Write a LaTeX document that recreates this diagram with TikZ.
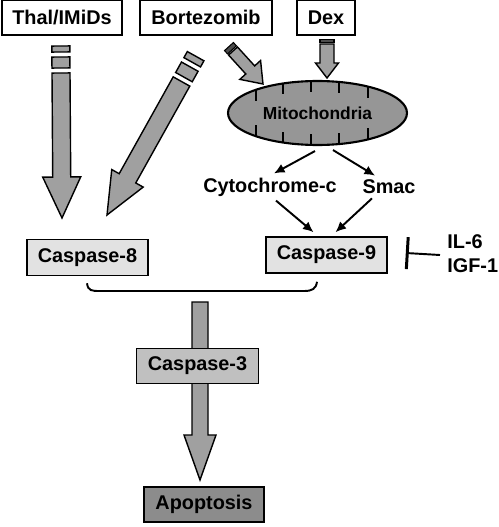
\documentclass[tikz,border=0pt]{standalone}
\usepackage{fontspec}
\setmainfont{Liberation Sans}
\usepackage{tikz}
\usetikzlibrary{positioning, calc, arrows.meta, shapes.geometric}
\definecolor{arrowgray}{RGB}{160,160,160}
\definecolor{mitogray}{RGB}{150,150,150}
\definecolor{lightbox}{RGB}{226,226,226}
\definecolor{midbox}{RGB}{192,192,192}
\definecolor{darkbox}{RGB}{140,140,140}
\tikzset{
    drugnode/.style={
        draw, line width=0.9pt, fill=white, font=\fontsize{11.3}{13}\selectfont\bfseries,
        minimum height=0.7cm, inner sep=0pt
    },
    casenode/.style={
        draw, line width=0.9pt, fill=lightbox, font=\fontsize{11.3}{13}\selectfont\bfseries,
        minimum width=2.42cm, minimum height=0.72cm, inner sep=0pt
    },
    labelnode/.style={
        font=\fontsize{11.3}{13}\selectfont\bfseries, inner sep=0pt
    },
    bodyarrow/.style={
        fill=arrowgray, draw=black, line width=0.8pt, line join=miter
    },
    darkdash/.style={
        fill=black!70, draw=black, line width=0.6pt
    },
    thinarrow/.style={
        -{Latex[length=6pt,width=5.5pt]}, line width=1.1pt
    },
    inhibit/.style={
        line width=1.1pt, -{Bar[width=0.64cm, line width=1.7pt]}
    }
}
% fat block arrow: #1 tail, #2 tip, #3 half shaft, #4 half head, #5 head length (px)
\newcommand{\blockarrow}[5]{%
    \coordinate (ba-h) at ($(#2)!#5*0.02cm!(#1)$);
    \filldraw[bodyarrow] ($(#1)!#3*0.02cm!90:(#2)$) -- ($(ba-h)!#3*0.02cm!90:(#2)$)
        -- ($(ba-h)!#4*0.02cm!90:(#2)$) -- (#2) -- ($(ba-h)!#4*0.02cm!-90:(#2)$)
        -- ($(ba-h)!#3*0.02cm!-90:(#2)$) -- ($(#1)!#3*0.02cm!-90:(#2)$) -- cycle;}
% piece of a broken tail: #1 tail, #2 tip, #3 #4 offsets behind tail, #5 half width, #6 style
\newcommand{\arrowdash}[6]{%
    \coordinate (bd-a) at ($(#1)!-#3*0.02cm!(#2)$);
    \coordinate (bd-b) at ($(#1)!-#4*0.02cm!(#2)$);
    \filldraw[#6] ($(bd-a)!#5*0.02cm!90:(#2)$) -- ($(bd-b)!#5*0.02cm!90:(#2)$)
        -- ($(bd-b)!#5*0.02cm!-90:(#2)$) -- ($(bd-a)!#5*0.02cm!-90:(#2)$) -- cycle;}

\begin{document}
\begin{tikzpicture}[x=0.02cm, y=0.02cm]
    \useasboundingbox (0,0) rectangle (498,-527);

    % drugs on top
    \node[drugnode, minimum width=2.4cm] (thal) at (62,-17.5) {Thal/IMiDs};
    \node[drugnode, minimum width=2.64cm] (bort) at (206,-17.5) {Bortezomib};
    \node[drugnode, minimum width=1.16cm] (dex) at (326,-17.5) {Dex};

    % mitochondria with its cristae
    \node[ellipse, draw, line width=1.2pt, fill=mitogray, minimum width=3.58cm, minimum height=1.28cm,
          inner sep=0pt, font=\fontsize{9.9}{12}\selectfont\bfseries] (mito) at (317.5,-113) {Mitochondria};
    \foreach \tx in {256,283,311,339,368}{
        \pgfmathsetmacro{\ty}{32*sqrt(1-((\tx-317.5)/89.5)^2)}
        \draw[line width=1pt] (\tx,{-113+\ty}) -- (\tx,{-113+\ty-11});
        \draw[line width=1pt] (\tx,{-113-\ty}) -- (\tx,{-113-\ty+11});
    }

    \node[labelnode] (cyto) at (270,-187) {Cytochrome-c};
    \node[labelnode] (smac) at (389,-187) {Smac};

    % caspases
    \node[casenode] (casp8) at (87.5,-257.5) {Caspase-8};
    \node[casenode] (casp9) at (326.5,-255) {Caspase-9};
    \node[labelnode, anchor=west] (il6) at (447,-242) {IL-6};
    \node[labelnode, anchor=west] (igf1) at (447,-266) {IGF-1};

    % fat arrows from the drugs
    \coordinate (thalS) at (61,-73);
    \coordinate (thalT) at (62,-218);
    \blockarrow{thalS}{thalT}{9}{19}{41}
    \arrowdash{thalS}{thalT}{5}{16}{9}{bodyarrow}
    \arrowdash{thalS}{thalT}{21}{27}{9}{bodyarrow}

    \coordinate (bortS) at (181.5,-81.5);
    \coordinate (bortT) at (107,-215);
    \blockarrow{bortS}{bortT}{9.5}{18}{42}
    \arrowdash{bortS}{bortT}{5}{17}{9.5}{bodyarrow}
    \arrowdash{bortS}{bortT}{22}{29}{9.5}{bodyarrow}

    \coordinate (bmitoS) at (233,-51);
    \coordinate (bmitoT) at (263,-84);
    \blockarrow{bmitoS}{bmitoT}{6}{14}{19}
    \arrowdash{bmitoS}{bmitoT}{1.5}{6}{6}{darkdash}

    \coordinate (dexS) at (327,-44);
    \coordinate (dexT) at (327,-78);
    \blockarrow{dexS}{dexT}{7}{11.5}{15}
    \arrowdash{dexS}{dexT}{1.5}{4.5}{7}{darkdash}

    % mitochondria -> factors -> caspase-9
    \draw[thinarrow] ($(mito.south)+(-2.5,-5)$) -- ($(cyto.north)+(4,4)$);
    \draw[thinarrow] ($(mito.south)+(15.5,-4)$) -- ($(smac.north)+(-14,4)$);
    \draw[thinarrow] ($(cyto.south)+(6,-4)$) -- ($(casp9.north)+(-13,4)$);
    \draw[thinarrow] ($(smac.south)+(-17,-4)$) -- ($(casp9.north)+(9,4)$);

    % IL-6 / IGF-1 block caspase-9
    \draw[inhibit] ($(il6.south west)!0.5!(igf1.north west)+(-7,-1)$) -- ($(casp9.east)+(18,2)$);

    % both caspases join
    \draw[line width=1.1pt] ($(casp8.south)+(-0.5,-7)$) .. controls (88,-291) and (92,-291) .. (100,-291)
        -- (304,-291) .. controls (312,-291) and (316,-289) .. ($(casp9.south)+(-9.5,-8)$);

    % caspase-3 -> apoptosis
    \coordinate (c3S) at (200,-302);
    \coordinate (c3T) at (200,-480);
    \blockarrow{c3S}{c3T}{8}{16}{45}
    \node[casenode, fill=midbox, minimum width=2.44cm, minimum height=0.7cm] (casp3) at (197.5,-366) {Caspase-3};
    \node[casenode, fill=darkbox, minimum width=2.4cm, minimum height=0.7cm] (apop) at (204,-504.5) {Apoptosis};
\end{tikzpicture}
\end{document}
